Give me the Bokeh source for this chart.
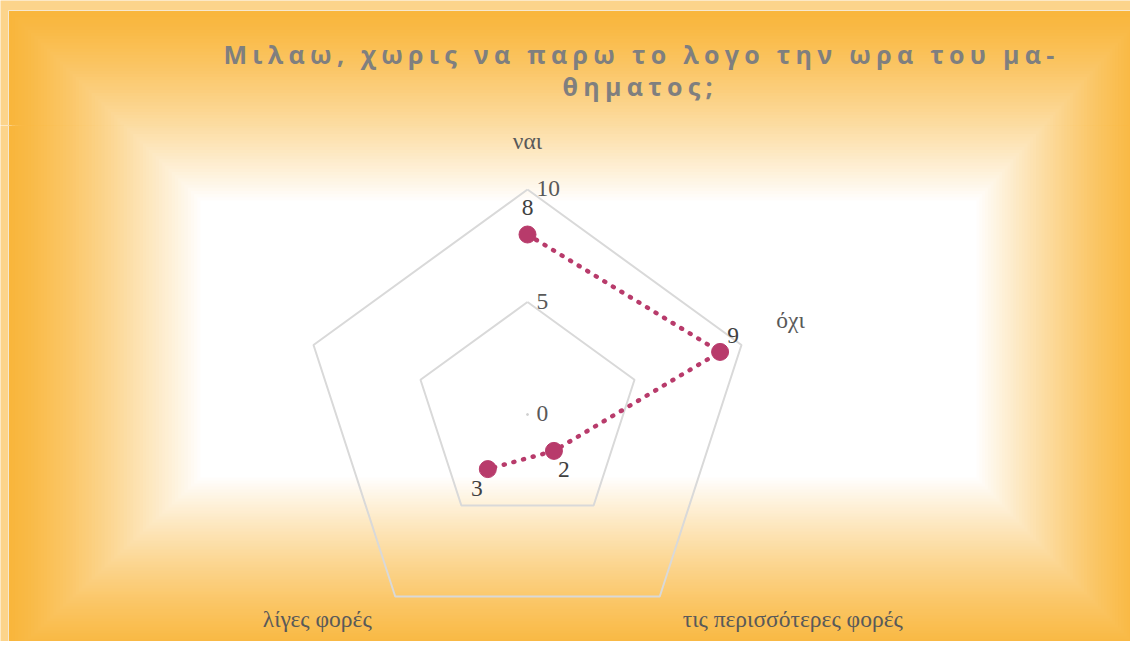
import math
from bokeh.plotting import figure
from bokeh.models import Range1d, ColumnDataSource
from bokeh.layouts import column
from bokeh.core.properties import value
from bokeh.embed import file_html
from bokeh.resources import INLINE

# ---------------- data ----------------
title_lines = ["Μιλαω, χωρις να παρω το λογο την ωρα του μα-", "θηματος;"]
categories = ["ναι", "όχι", "τις περισσότερες φορές", "λίγες φορές", ""]
values = [8, 9, 2, 3, None]
ring_ticks = [0, 5, 10]
ring_labels = ["0", "5", "10"]
r_max = 10

# ---------------- layout constants (canvas px) ----------------
W, H = 1130, 641
H_TITLE = 125
H_MAIN = H - H_TITLE
CX, CY = 527, 414                    # radar centre
U = 22.5                             # px per value unit
ORANGE = (249, 182, 60)
WHITE = (255, 255, 255)
STRIP = "#FCD48B"
OUT = (8, 1146, 10, 657)             # gradient outer rect l, r, t, b
INN = (200, 976, 200, 477)           # gradient inner (white) rect
N = 60
SHIFT = -9                           # baseline correction for serif labels (px)

def hexc(c):
    return "#%02x%02x%02x" % tuple(int(round(v)) for v in c)

def grad_rects():
    L, R, T, B, C = [], [], [], [], []
    for k in range(N):
        t = k / N
        s = t ** 1.25
        L.append(OUT[0] + t * (INN[0] - OUT[0]))
        R.append(OUT[1] + t * (INN[1] - OUT[1]))
        T.append(OUT[2] + t * (INN[2] - OUT[2]))
        B.append(OUT[3] + t * (INN[3] - OUT[3]))
        C.append(hexc([ORANGE[i] * (1 - s) + WHITE[i] * s for i in range(3)]))
    L.append(INN[0]); R.append(INN[1]); T.append(INN[2]); B.append(INN[3]); C.append("#ffffff")
    return L, R, T, B, C

def base_fig(h, xr, yr, **kw):
    p = figure(width=W, height=h, x_range=xr, y_range=yr, output_backend="svg",
               toolbar_location=None, x_axis_type=None, y_axis_type=None,
               min_border=0, **kw)
    p.grid.visible = False
    p.outline_line_color = None
    p.border_fill_color = STRIP
    p.background_fill_color = STRIP
    return p

# ---------------- title figure (px coordinates, y downward) ----------------
pt = base_fig(H_TITLE, Range1d(0, W), Range1d(H_TITLE, 0),
              styles={"letter-spacing": "5.3px"})
L, R, T, B, C = grad_rects()
pt.quad(left=L, right=R, top=T, bottom=B, fill_color=C, line_color=None)
pt.segment(x0=[OUT[0]], y0=[OUT[2]], x1=[OUT[1]], y1=[OUT[2]], line_color="#F6E8D0", line_width=1)
pt.segment(x0=[OUT[0]], y0=[OUT[2]], x1=[OUT[0]], y1=[H_TITLE], line_color="#F6E8D0", line_width=1)
pt.text(x=[223, 562], y=[53, 85], text=title_lines, text_font=value("Open Sans"),
        text_font_style="bold", text_font_size="25px", text_color="#7F7F7F",
        text_align="left", text_baseline="alphabetic")

# ---------------- main radar figure (value units) ----------------
xr = Range1d((0 - CX) / U, (W - CX) / U)
yr = Range1d(-(H - CY) / U, (CY - H_TITLE) / U)
pm = base_fig(H_MAIN, xr, yr)

def px2x(px):
    return (px - CX) / U

def px2y(py):
    return (CY - py) / U

pm.quad(left=[px2x(v) for v in L], right=[px2x(v) for v in R],
        top=[px2y(v) for v in T], bottom=[px2y(v) for v in B],
        fill_color=C, line_color=None)
pm.segment(x0=[px2x(OUT[0])], y0=[px2y(H_TITLE)], x1=[px2x(OUT[0])],
           y1=[px2y(OUT[3])], line_color="#F6E8D0", line_width=1)

n = len(categories)
angles = [math.pi / 2 - 2 * math.pi * i / n for i in range(n)]

# grid rings
for r in ring_ticks[1:]:
    xs = [r * math.cos(a) for a in angles] + [r * math.cos(angles[0])]
    ys = [r * math.sin(a) for a in angles] + [r * math.sin(angles[0])]
    pm.line(xs, ys, line_color="#D9D9D9", line_width=2)
pm.scatter([0], [0], size=2, color="#D0D0D0")

FS = "23.5px"
# ring labels
pm.text(x=[0] * len(ring_ticks), y=ring_ticks, text=ring_labels, x_offset=9, y_offset=8 + SHIFT,
        text_font=value("Liberation Serif"), text_font_size=FS, text_color="#595959",
        text_align="left", text_baseline="alphabetic")

# category labels
cat_dx = [0, 49, 133, -78, 0]
cat_dy = [-40 + SHIFT, -16 + SHIFT, 22, 22, 0]
cat_src = ColumnDataSource(dict(
    x=[r_max * math.cos(a) for a in angles], y=[r_max * math.sin(a) for a in angles],
    t=categories, dx=cat_dx, dy=cat_dy))
pm.text(x="x", y="y", text="t", x_offset="dx", y_offset="dy", source=cat_src,
        text_font=value("Liberation Serif"), text_font_size=FS, text_color="#595959",
        text_align="center", text_baseline="alphabetic")

# series
vx, vy = [], []
for v, a in zip(values, angles):
    if v is None:
        vx.append(float("nan")); vy.append(float("nan"))
    else:
        vx.append(v * math.cos(a)); vy.append(v * math.sin(a))
lx = vx + [vx[0]]
ly = vy + [vy[0]]
SER = "#B83B6B"
pm.line(lx, ly, line_color=SER, line_width=4.5, line_dash="1 9", line_cap="round")
pts_x = [x for x, v in zip(vx, values) if v is not None]
pts_y = [y for y, v in zip(vy, values) if v is not None]
pm.scatter(pts_x, pts_y, size=17, fill_color=SER, line_color=SER)

lab_dx = [0, 13, 10, -11]
lab_dy = [-18 + SHIFT, -7 + SHIFT, 28 + SHIFT, 28 + SHIFT]
lab_src = ColumnDataSource(dict(x=pts_x, y=pts_y,
                                t=[str(v) for v in values if v is not None],
                                dx=lab_dx, dy=lab_dy))
pm.text(x="x", y="y", text="t", x_offset="dx", y_offset="dy", source=lab_src,
        text_font=value("Liberation Serif"), text_font_size=FS, text_color="#404040",
        text_align="center", text_baseline="alphabetic")

layout = column(pt, pm, spacing=0)
open("out.html", "w").write(file_html(layout, INLINE))
